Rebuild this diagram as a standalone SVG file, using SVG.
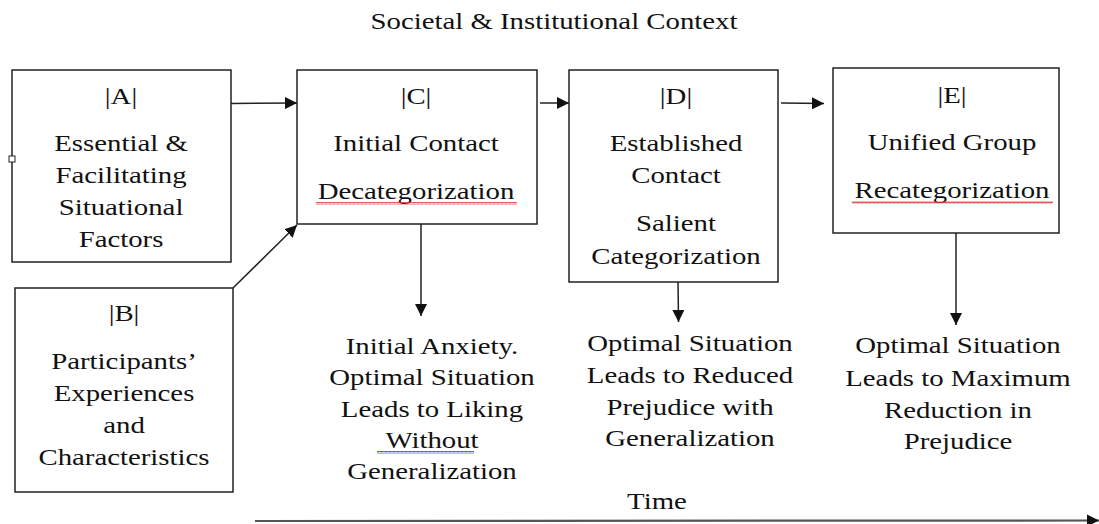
<svg xmlns="http://www.w3.org/2000/svg" width="1099" height="524" viewBox="0 0 1099 524" font-family="Liberation Serif, Times New Roman, serif">
<style>
.box{fill:#fff;stroke:#222;stroke-width:1.5}
.t{font-size:24px;fill:#111;text-anchor:middle}
.c{fill:none;stroke:#222;stroke-width:1.5}
</style>
<defs>
<marker id="ah" viewBox="0 0 12 12" refX="12" refY="6" markerWidth="12" markerHeight="12" markerUnits="userSpaceOnUse" orient="auto">
<path d="M0,0 L12,6 L0,12 Z" fill="#111"/>
</marker>
<pattern id="wr" width="4" height="3" patternUnits="userSpaceOnUse">
<path d="M0,2.5 L1,0.5 L2,2.5 L3,0.5 L4,2.5" fill="none" stroke="#e03030" stroke-width="0.8"/>
</pattern>
<pattern id="wb" width="4" height="3" patternUnits="userSpaceOnUse">
<path d="M0,2.5 L1,0.5 L2,2.5 L3,0.5 L4,2.5" fill="none" stroke="#3040e0" stroke-width="0.8"/>
</pattern>
</defs>

<g id="title"><g transform="translate(554,0) scale(1.2,1)"><text class="t" x="0" y="29">Societal &amp; Institutional Context</text></g></g>

<g id="connectors">
<line class="c" x1="231" y1="103.5" x2="297" y2="103" marker-end="url(#ah)"/>
<line class="c" x1="233" y1="288" x2="297" y2="225" marker-end="url(#ah)"/>
<line class="c" x1="540" y1="103" x2="569" y2="103" marker-end="url(#ah)"/>
<line class="c" x1="781" y1="103" x2="824" y2="103.5" marker-end="url(#ah)"/>
<line class="c" x1="421" y1="224" x2="421" y2="316" marker-end="url(#ah)"/>
<line class="c" x1="678" y1="282" x2="678.5" y2="322" marker-end="url(#ah)"/>
<line class="c" x1="956" y1="233" x2="956" y2="325" marker-end="url(#ah)"/>
<line x1="255" y1="521" x2="1099" y2="520.5" stroke="#555" stroke-width="2.2" marker-end="url(#ah)"/>
</g>

<g id="nodeA">
<rect class="box" x="12" y="70" width="219" height="192"/>
<rect x="9" y="156" width="6" height="6" fill="#fff" stroke="#222" stroke-width="1"/>
<g transform="translate(121,0) scale(1.2,1)">
<text class="t" x="0" y="104">|A|</text>
<text class="t" x="0" y="151">Essential &amp;</text>
<text class="t" x="0" y="183">Facilitating</text>
<text class="t" x="0" y="215">Situational</text>
<text class="t" x="0" y="247">Factors</text>
</g>
</g>

<g id="nodeB">
<rect class="box" x="15" y="288" width="218" height="204"/>
<g transform="translate(124,0) scale(1.2,1)">
<text class="t" x="0" y="321">|B|</text>
<text class="t" x="0" y="369">Participants’</text>
<text class="t" x="0" y="401">Experiences</text>
<text class="t" x="0" y="433">and</text>
<text class="t" x="0" y="465">Characteristics</text>
</g>
</g>

<g id="nodeC">
<rect class="box" x="297" y="70" width="240" height="154"/>
<g transform="translate(416,0) scale(1.2,1)">
<text class="t" x="0" y="104">|C|</text>
<text class="t" x="0" y="151">Initial Contact</text>
<text class="t" x="0" y="199">Decategorization</text>
</g>
<rect x="316" y="202" width="201" height="3" fill="url(#wr)"/>
</g>

<g id="nodeD">
<rect class="box" x="569" y="70" width="209" height="212"/>
<g transform="translate(676,0) scale(1.2,1)">
<text class="t" x="0" y="104">|D|</text>
<text class="t" x="0" y="151">Established</text>
<text class="t" x="0" y="183">Contact</text>
<text class="t" x="0" y="231">Salient</text>
<text class="t" x="0" y="264">Categorization</text>
</g>
</g>

<g id="nodeE">
<rect class="box" x="833" y="68" width="226" height="165"/>
<g transform="translate(952,0) scale(1.2,1)">
<text class="t" x="0" y="103">|E|</text>
<text class="t" x="0" y="150">Unified Group</text>
<text class="t" x="0" y="198">Recategorization</text>
</g>
<rect x="852" y="201" width="201" height="3" fill="url(#wr)"/>
</g>

<g id="outC">
<g transform="translate(432,0) scale(1.2,1)">
<text class="t" x="0" y="354">Initial Anxiety.</text>
<text class="t" x="0" y="385">Optimal Situation</text>
<text class="t" x="0" y="417">Leads to Liking</text>
<text class="t" x="0" y="448">Without</text>
<text class="t" x="0" y="479">Generalization</text>
</g>
<rect x="377" y="451" width="97" height="3" fill="url(#wb)"/>
</g>

<g id="outD">
<g transform="translate(690,0) scale(1.2,1)">
<text class="t" x="0" y="351">Optimal Situation</text>
<text class="t" x="0" y="383">Leads to Reduced</text>
<text class="t" x="0" y="415">Prejudice with</text>
<text class="t" x="0" y="446">Generalization</text>
</g>
</g>

<g id="outE">
<g transform="translate(958,0) scale(1.2,1)">
<text class="t" x="0" y="353">Optimal Situation</text>
<text class="t" x="0" y="386">Leads to Maximum</text>
<text class="t" x="0" y="418">Reduction in</text>
<text class="t" x="0" y="449">Prejudice</text>
</g>
</g>

<g id="time"><g transform="translate(657,0) scale(1.2,1)"><text class="t" x="0" y="509">Time</text></g></g>
</svg>
